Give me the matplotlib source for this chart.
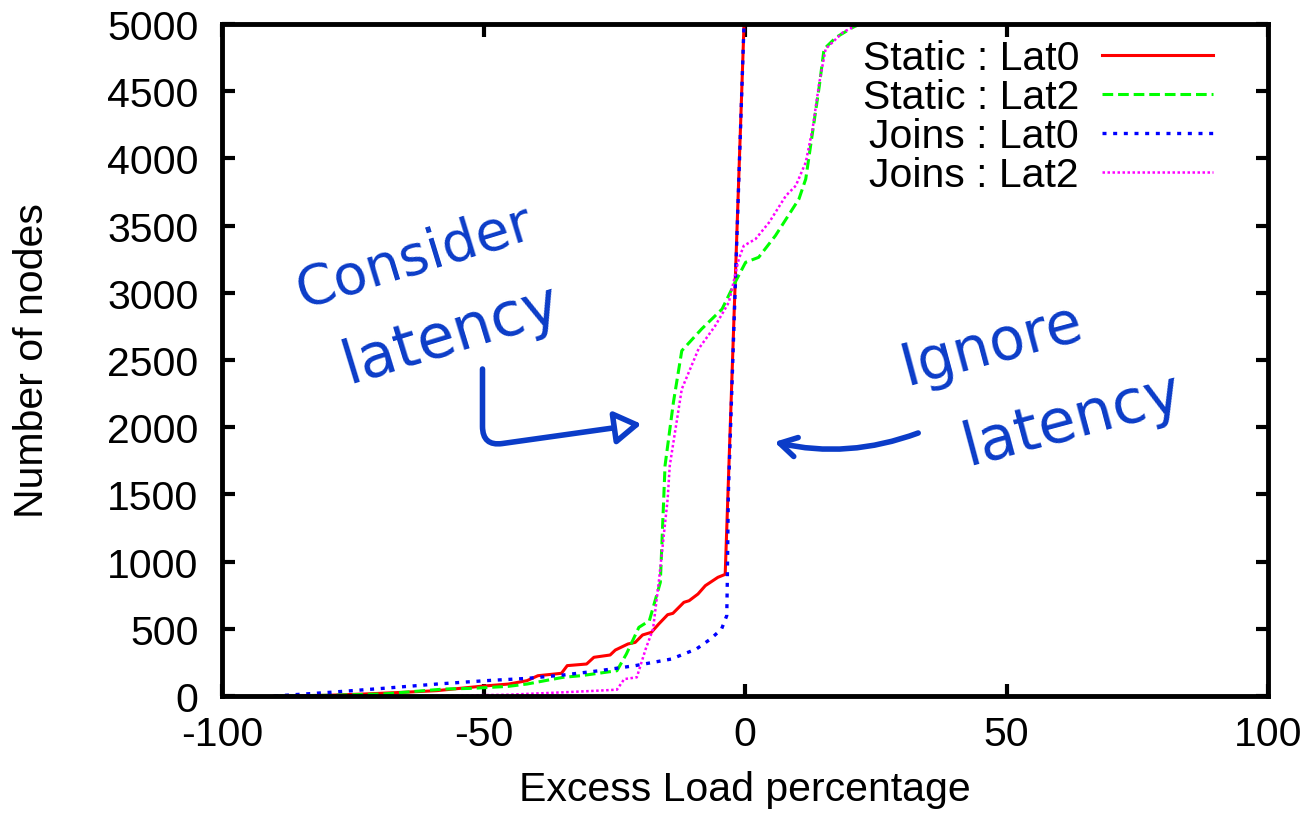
import matplotlib
matplotlib.use("Agg")
import matplotlib.pyplot as plt

plt.rcParams['font.family'] = ['Liberation Sans', 'DejaVu Sans']
plt.rcParams['axes.unicode_minus'] = False

# curves: x = excess load %, y = number of nodes
static_lat0_x = [-90, -80, -72.7, -65, -58.9, -50.6, -45.2, -41.7, -39.6, -35.1, -34.0, -30.3,
                 -28.9, -25.8, -24.8, -22.4, -21.0, -19.6, -17.9, -16.5, -14.8, -13.8, -11.7,
                 -10.7, -9.0, -7.6, -5.2, -3.8, -0.2]
static_lat0_y = [0, 5, 15, 28, 40, 72, 89, 114, 151, 169, 226, 238, 288, 305, 342, 387, 399,
                 454, 474, 536, 605, 615, 697, 709, 759, 821, 883, 905, 5000]

static_lat2_x = [-90, -80, -69.2, -57.5, -52.1, -45.2, -41.7, -34.8, -31.4, -24.5, -22.7, -20.3,
                 -18.3, -16.2, -15.3, -13.7, -12.1, -8.3, -4.4, -1.9, 0.1, 2.6, 5.8, 10.3, 11.6,
                 12.9, 14.2, 15.1, 17.4, 20.6, 22.0]
static_lat2_y = [0, 5, 15, 52, 57, 72, 89, 139, 151, 188, 312, 511, 560, 846, 1714, 2185, 2569,
                 2731, 2879, 3078, 3227, 3264, 3425, 3698, 3847, 4194, 4541, 4814, 4901, 4975, 5000]

joins_lat0_x = [-90, -79.5, -69.2, -58.9, -49.6, -41.7, -34.8, -27.9, -21.0, -14.1, -9.3, -6.6,
                -4.5, -3.5, -3.4, -3.2, -0.2]
joins_lat0_y = [0, 27, 57, 89, 114, 131, 156, 188, 226, 275, 350, 424, 498, 598, 846, 1500, 5000]

joins_lat2_x = [-60, -45, -35, -28, -24.5, -23.1, -20.7, -19.0, -17.6, -16.5, -14.8, -14.4,
                -12.1, -8.9, -5.7, -3.1, -1.2, -0.25, 2.0, 4.6, 7.8, 9.7, 11.6, 12.9, 14.2,
                15.4, 18.7, 21.2, 22.5]
joins_lat2_y = [0, 10, 27, 40, 47, 126, 139, 350, 498, 846, 1466, 1714, 2284, 2582, 2755, 2929,
                3251, 3350, 3400, 3524, 3722, 3797, 3971, 4219, 4566, 4814, 4938, 4988, 5000]

x_ticks = [-100, -50, 0, 50, 100]
y_ticks = list(range(0, 5001, 500))

INK = '#0b3cc8'
FS = 29.5

fig = plt.figure(figsize=(13.06, 8.2), dpi=100)
ax = fig.add_axes([0.170, 0.150, 0.801, 0.8195])

ax.plot(static_lat0_x, static_lat0_y, color='#ff0000', lw=2.2, label='Static : Lat0')
ax.plot(static_lat2_x, static_lat2_y, color='#00ff00', lw=2.2, dashes=(3.5, 1.6), label='Static : Lat2')
ax.plot(joins_lat0_x, joins_lat0_y, color='#0000ff', lw=2.4, dashes=(1.2, 2.0), label='Joins : Lat0')
ax.plot(joins_lat2_x, joins_lat2_y, color='#ff00ff', lw=1.8, dashes=(1.0, 1.0), label='Joins : Lat2')

ax.set_xlim(-100, 100)
ax.set_ylim(0, 5000)
ax.set_xticks(x_ticks)
ax.set_yticks(y_ticks)
ax.tick_params(direction='in', length=9, width=3, top=True, right=True, labelsize=FS)
ax.tick_params(axis='x', pad=14)
ax.tick_params(axis='y', pad=17)
for s in ax.spines.values():
    s.set_linewidth(3.5)

ax.set_xlabel('Excess Load percentage', fontsize=FS, labelpad=12)
ax.set_ylabel('Number of nodes', fontsize=FS, labelpad=40)

leg = ax.legend(loc='upper right', bbox_to_anchor=(0.947, 0.977), frameon=False, markerfirst=False,
                fontsize=FS, handlelength=2.7, handletextpad=0.56, labelspacing=0.02,
                borderaxespad=0, borderpad=0)

# hand-written notes
ax.text(-63.1, 3266, 'Consider', color=INK, fontsize=40, rotation=17, ha='center', va='center',
        rotation_mode='anchor', family='DejaVu Sans')
ax.text(-56.3, 2693, 'latency', color=INK, fontsize=44, rotation=17, ha='center', va='center',
        rotation_mode='anchor', family='DejaVu Sans')
ax.text(47.1, 2619, 'Ignore', color=INK, fontsize=42, rotation=15, ha='center', va='center',
        rotation_mode='anchor', family='DejaVu Sans')
ax.text(62.5, 2061, 'latency', color=INK, fontsize=44, rotation=15, ha='center', va='center',
        rotation_mode='anchor', family='DejaVu Sans')

ax.annotate('', xy=(-19.8, 2024), xytext=(-50.2, 2433),
            arrowprops=dict(arrowstyle='-|>,head_length=1.6,head_width=1.0', ec=INK, fc='white',
                            lw=4, shrinkA=0, shrinkB=0,
                            connectionstyle='angle,angleA=90,angleB=8,rad=20'))
ax.annotate('', xy=(5.6, 1890), xytext=(33.1, 1957),
            arrowprops=dict(arrowstyle='->,head_length=1.2,head_width=0.7', color=INK, lw=4,
                            shrinkA=0, shrinkB=0, connectionstyle='arc3,rad=-0.15'))

fig.savefig('out.png', dpi=100)
